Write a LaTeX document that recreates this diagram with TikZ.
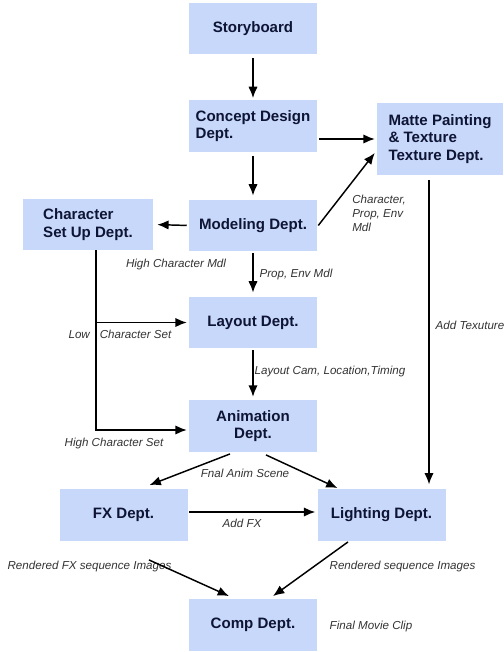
\documentclass[tikz,border=0pt]{standalone}
\usepackage{fontspec}
\setmainfont{Liberation Sans}
\usetikzlibrary{arrows.meta, positioning, calc}
\definecolor{deptblue}{RGB}{200,216,250}
\definecolor{deptnavy}{RGB}{14,20,52}

\begin{document}
\begin{tikzpicture}[
  x=0.75pt, y=-0.75pt,
  dept/.style={rectangle, fill=deptblue, draw=none, inner sep=2pt,
               minimum width=96pt, minimum height=38.5pt,
               font=\fontsize{11.3}{13}\selectfont\bfseries, text=deptnavy, align=left},
  lbl/.style={font=\fontsize{8.7}{10.5}\selectfont\itshape, text=black!80, inner sep=1pt},
  arr/.style={-{Latex[length=8.5pt,width=7pt]}, line width=1.1pt}
]
  \useasboundingbox (0,0) rectangle (503,652);
  % departments
  \node[dept] (story)   at (253, 28.5)  {Storyboard};
  \node[dept] (concept) at (253, 126)   {Concept Design\\Dept.};
  \node[dept, minimum width=94.5pt, minimum height=54pt] (matte) at (440, 139) {Matte Painting\\\& Texture\\Texture Dept.};
  \node[dept] (model)   at (253, 225.5) {Modeling Dept.};
  \node[dept, minimum width=97.5pt] (charset) at (88, 224.5) {Character\\Set Up Dept.};
  \node[dept] (layout)  at (253, 322.5) {Layout Dept.};
  \node[dept, align=center] (anim) at (253, 426) {Animation\\Dept.};
  \node[dept] (fx)      at (123.5, 515) {FX Dept.};
  \node[dept] (light)   at (381.5, 515) {Lighting Dept.};
  \node[dept] (comp)    at (253, 625)   {Comp Dept.};
  % labels
  \node[lbl, align=left] (lchar) at (379, 213) {Character,\\Prop, Env\\Mdl};
  \node[lbl] (lhigh)  at (176, 264) {High Character Mdl};
  \node[lbl] (lprop)  at (296, 274) {Prop, Env Mdl};
  \node[lbl] (llow)   at (120, 334) {Low\hspace{7.5pt}Character Set};
  \node[lbl] (lcam)   at (330, 371) {Layout Cam, Location,Timing};
  \node[lbl] (lhset)  at (114, 443) {High Character Set};
  \node[lbl] (lscene) at (245, 473) {Fnal Anim Scene};
  \node[lbl] (ltex)   at (470, 325) {Add Texuture};
  \node[lbl] (laddfx) at (242, 523) {Add FX};
  \node[lbl] (lrfx)   at (89.5, 566) {Rendered FX sequence Images};
  \node[lbl] (lrseq)  at (402.5, 566) {Rendered sequence Images};
  \node[lbl] (lclip)  at (371, 626) {Final Movie Clip};
  % connectors
  \draw[arr, shorten <=3pt, shorten >=1.5pt] (story.south) -- (concept.north);
  \draw[arr, shorten <=1.5pt, shorten >=1.5pt] (matte.west -| concept.east) -- (matte.west);
  \draw[arr, shorten <=3pt, shorten >=3pt] (concept.south) -- (model.north);
  \draw[arr, shorten <=1.5pt, shorten >=3pt] (model.west) -- (charset.east);
  \draw[arr] ($(model.east)+(1,0)$) -- ($(matte.west)+(-2,14)$);
  \draw[arr, shorten <=1.5pt, shorten >=3pt] (model.south) -- (layout.north);
  \coordinate (cstop) at ($(charset.south)+(8,0)$);
  \draw[arr, shorten >=1.5pt] (cstop) |- (layout.west);
  \draw[arr, shorten >=1.5pt] (cstop) |- ($(anim.west)+(0,4)$);
  \draw[arr, shorten <=1.5pt, shorten >=2.5pt] (layout.south) -- (anim.north);
  \coordinate (mtop) at ($(matte.south)+(-11,5)$);
  \draw[arr, shorten >=3.5pt] (mtop) -- (mtop |- light.north);
  \draw[arr] ($(anim.south)+(-23,2)$) -- ($(fx.north)+(26,-4)$);
  \draw[arr] ($(anim.south)+(13,3)$) -- ($(light.north)+(-44,-1)$);
  \draw[arr, shorten <=1pt, shorten >=1.5pt] ($(fx.east)+(0,-3)$) -- ($(light.west)+(0,-3)$);
  \draw[arr] ($(fx.south)+(25.5,19)$) -- ($(comp.north)+(-24,-3)$);
  \draw[arr] ($(light.south)+(-33.5,1)$) -- ($(comp.north)+(20,-3)$);
\end{tikzpicture}
\end{document}
